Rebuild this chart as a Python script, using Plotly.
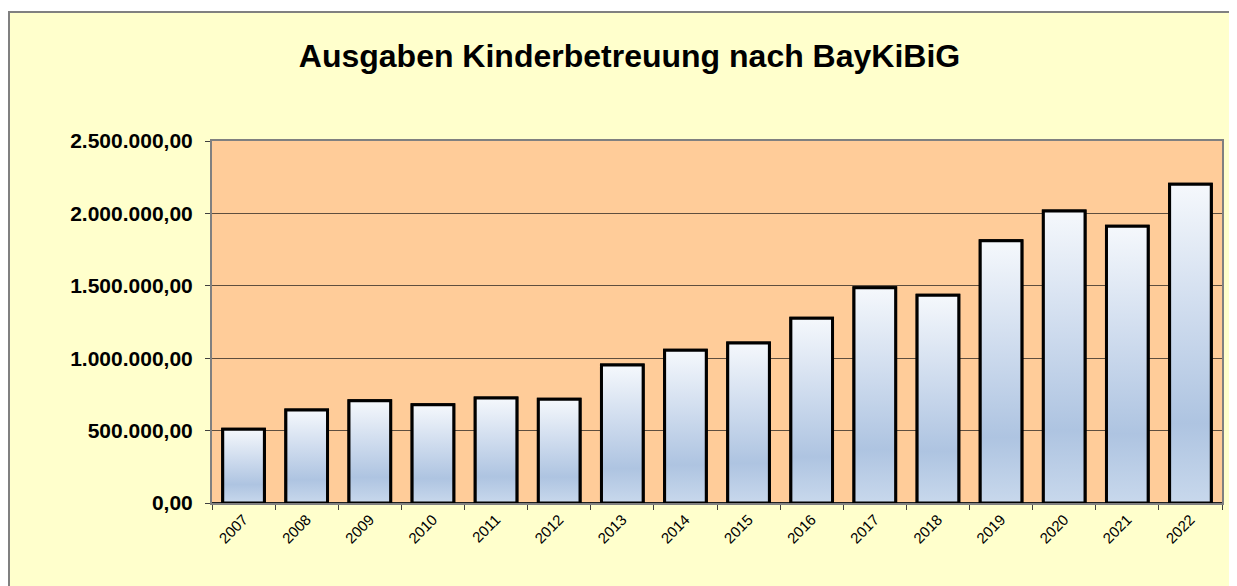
import plotly.graph_objects as go

# ---- data ----
years = ["2007", "2008", "2009", "2010", "2011", "2012", "2013", "2014",
         "2015", "2016", "2017", "2018", "2019", "2020", "2021", "2022"]
spending = [510000, 642000, 706000, 679000, 725000, 716000, 953000, 1055000,
            1105000, 1276000, 1487000, 1434000, 1811000, 2017000, 1911000, 2201000]
y_tick_values = [0, 500000, 1000000, 1500000, 2000000, 2500000]
title_text = "Ausgaben Kinderbetreuung nach BayKiBiG"

# ---- styling ----
BAR_W = 0.66
FONT = "Liberation Sans, Arial, sans-serif"
# the page body has an 8px margin, so the figure starts at (8, 8)
W, H = 1229, 578
ML, MR, MT, MB = 204, 15, 133, 83
PW, PH = W - ML - MR, H - MT - MB

positions = list(range(len(years)))
gradient = [[0.0, "#C8D8EC"], [0.25, "#AEC4E1"], [0.6, "#CFDCEE"], [1.0, "#F5F8FC"]]

fig = go.Figure()
fig.add_trace(go.Bar(
    x=positions, y=spending, width=BAR_W,
    marker=dict(color="rgba(0,0,0,0)", line=dict(color="black", width=3)),
    showlegend=False, hovertemplate="%{y:,.2f}<extra></extra>"))

for i, v in zip(positions, spending):
    xs = [i - BAR_W / 2, i + BAR_W / 2, i + BAR_W / 2, i - BAR_W / 2, i - BAR_W / 2]
    ys = [0, 0, v, v, 0]
    fig.add_trace(go.Scatter(
        x=xs, y=ys, mode="lines", fill="toself",
        line=dict(width=3, color="black", shape="linear"),
        fillgradient=dict(type="vertical", colorscale=gradient, start=0, stop=v),
        hoverinfo="skip", showlegend=False))

boundaries = [p - 0.5 for p in positions] + [positions[-1] + 0.5]

fig.update_layout(
    width=W, height=H,
    margin=dict(l=ML, r=MR, t=MT, b=MB, pad=0),
    paper_bgcolor="#FFFFCC",
    plot_bgcolor="#FFCC99",
    separators=",.",
    title=dict(text=title_text, x=621.5 / W, xref="container", xanchor="center",
               y=1 - 48 / H, yref="container", yanchor="middle",
               font=dict(family=FONT, size=32, color="black", weight="bold")),
    xaxis=dict(
        range=[-0.5, len(years) - 0.5],
        tickvals=positions, ticktext=years, tickangle=-45,
        ticks="", showgrid=False, zeroline=False,
        tickfont=dict(family=FONT, size=15, color="black"),
        showline=True, linecolor="#808080", linewidth=2, mirror=True,
        minor=dict(tickvals=boundaries, ticks="outside", ticklen=5,
                   tickcolor="#404040", tickwidth=1, showgrid=False),
    ),
    yaxis=dict(
        range=[0, 2500000], tickvals=y_tick_values, tickformat=",.2f",
        ticks="outside", ticklen=5, tickcolor="#404040",
        ticklabelstandoff=8,
        showgrid=True, gridcolor="#5E4E3E", gridwidth=1,
        zeroline=True, zerolinecolor="#202020", zerolinewidth=1.5,
        tickfont=dict(family=FONT, size=21, color="black", weight="bold"),
        showline=True, linecolor="#808080", linewidth=2, mirror=True,
    ),
    shapes=[
        # white strip above the chart frame
        dict(type="rect", xref="paper", yref="paper",
             x0=-ML / PW, x1=1 + MR / PW, y0=1 + (MT - 3) / PH, y1=1 + MT / PH,
             fillcolor="white", line=dict(width=0), layer="below"),
        # chart frame lines (left and top)
        dict(type="line", xref="paper", yref="paper",
             x0=(1 - ML) / PW, x1=(1 - ML) / PW, y0=-MB / PH, y1=1 + (MT - 3) / PH,
             line=dict(color="#808080", width=2)),
        dict(type="line", xref="paper", yref="paper",
             x0=-ML / PW, x1=1 + MR / PW, y0=1 + (MT - 4) / PH, y1=1 + (MT - 4) / PH,
             line=dict(color="#808080", width=2)),
    ],
)

fig.write_html("out.html")
